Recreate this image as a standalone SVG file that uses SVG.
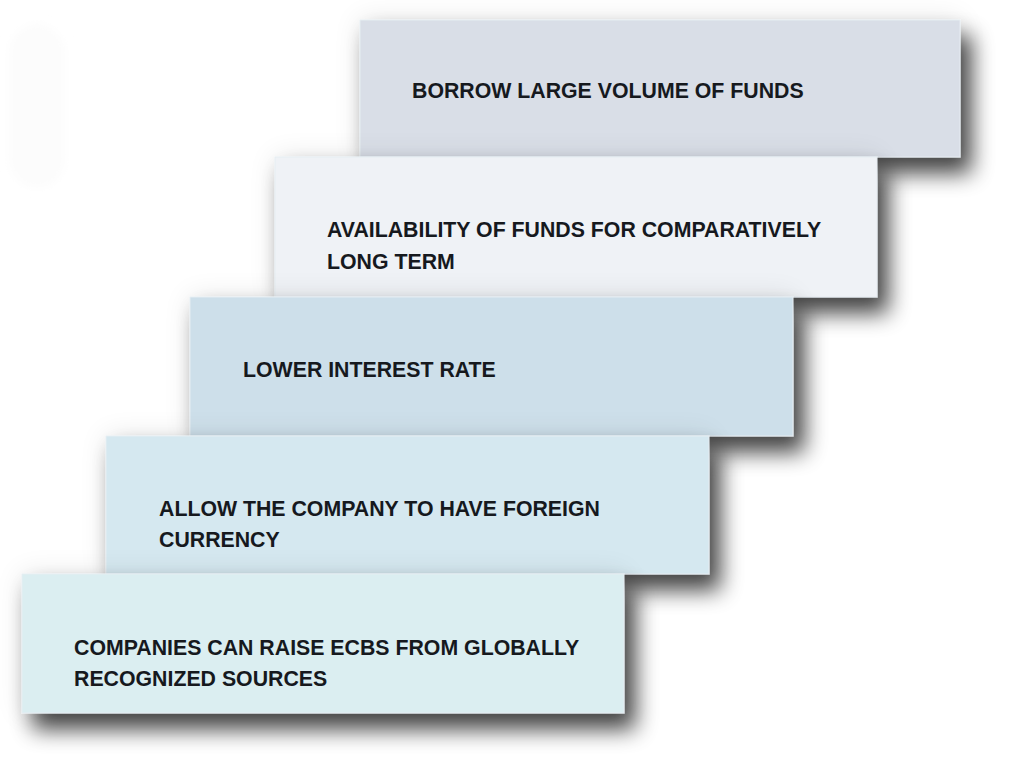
<svg xmlns="http://www.w3.org/2000/svg" width="1015" height="766" viewBox="0 0 1015 766">
<defs>
<filter id="shadow" x="-20%" y="-40%" width="150%" height="230%">
<feGaussianBlur in="SourceAlpha" stdDeviation="14" result="halo"/>
<feComponentTransfer in="halo" result="halo2"><feFuncA type="linear" slope="0.1"/></feComponentTransfer>
<feGaussianBlur in="SourceAlpha" stdDeviation="11" result="b"/>
<feOffset in="b" dx="11" dy="16" result="o"/>
<feComponentTransfer in="o" result="o2"><feFuncA type="linear" slope="0.72"/></feComponentTransfer>
<feMerge><feMergeNode in="halo2"/><feMergeNode in="o2"/><feMergeNode in="SourceGraphic"/></feMerge>
</filter>
<filter id="soft" x="-50%" y="-50%" width="200%" height="200%"><feGaussianBlur stdDeviation="5"/></filter>
</defs>
<style>
.box{filter:url(#shadow);stroke:#e6edf2;stroke-width:1;}
.t{font-family:"Liberation Sans",Arial,sans-serif;font-weight:bold;font-size:21.3px;fill:#16191e;}
</style>
<rect width="1015" height="766" fill="#ffffff"/>
<rect x="9" y="24" width="56" height="164" rx="28" fill="#fcfcfc" filter="url(#soft)"/>
<g id="node1">
<rect class="box" x="360" y="20" width="600" height="137" fill="#d9dee7"/>
<text class="t" x="412" y="98">BORROW LARGE VOLUME OF FUNDS</text>
</g>
<g id="node2">
<rect class="box" x="275" y="157" width="602" height="140" fill="#eff2f6"/>
<text class="t" x="327" y="237">AVAILABILITY OF FUNDS FOR COMPARATIVELY</text>
<text class="t" x="327" y="269">LONG TERM</text>
</g>
<g id="node3">
<rect class="box" x="190" y="297" width="603" height="139" fill="#cddfea"/>
<text class="t" x="243" y="377">LOWER INTEREST RATE</text>
</g>
<g id="node4">
<rect class="box" x="106" y="436" width="603" height="138" fill="#d5e8f0"/>
<text class="t" x="159" y="516">ALLOW THE COMPANY TO HAVE FOREIGN</text>
<text class="t" x="159" y="547">CURRENCY</text>
</g>
<g id="node5">
<rect class="box" x="22" y="574" width="602" height="139" fill="#dbeef1"/>
<text class="t" x="74" y="655">COMPANIES CAN RAISE ECBS FROM GLOBALLY</text>
<text class="t" x="74" y="686">RECOGNIZED SOURCES</text>
</g>
<g id="connectors"/>
</svg>
